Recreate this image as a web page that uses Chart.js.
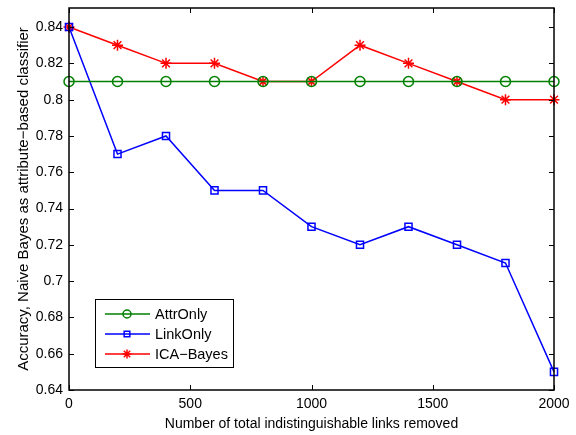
<!DOCTYPE html>
<html>
<head>
<meta charset="utf-8">
<script src="https://cdn.jsdelivr.net/npm/chart.js@4/dist/chart.umd.min.js"></script>
<style>
  html, body { margin: 0; padding: 0; background: #fff; }
  #wrap { width: 576px; height: 435px; }
</style>
</head>
<body>
<div id="wrap"><canvas id="chart"></canvas></div>
<script>
const linksRemoved = [0, 200, 400, 600, 800, 1000, 1200, 1400, 1600, 1800, 2000];
const attrOnly = [0.81, 0.81, 0.81, 0.81, 0.81, 0.81, 0.81, 0.81, 0.81, 0.81, 0.81];
const linkOnly = [0.84, 0.77, 0.78, 0.75, 0.75, 0.73, 0.72, 0.73, 0.72, 0.71, 0.65];
const icaBayes = [0.84, 0.83, 0.82, 0.82, 0.81, 0.81, 0.83, 0.82, 0.81, 0.80, 0.80];
const yTicks = [0.64, 0.66, 0.68, 0.70, 0.72, 0.74, 0.76, 0.78, 0.80, 0.82, 0.84];
const xTicks = [0, 500, 1000, 1500, 2000];

const FONT = 'Liberation Sans, Arial, Helvetica, sans-serif';
Chart.defaults.font.family = FONT;
Chart.defaults.color = '#000';

function series(label, values, color, style, radius) {
  return {
    label: label,
    data: linksRemoved.map((x, i) => ({ x: x, y: values[i] })),
    borderColor: color,
    backgroundColor: 'rgba(0,0,0,0)',
    pointBorderColor: color,
    pointBackgroundColor: 'rgba(0,0,0,0)',
    pointStyle: style,
    pointRadius: radius,
    pointBorderWidth: 1.5,
    borderWidth: 1.5,
    tension: 0,
    clip: false
  };
}

// MATLAB-like frame: full box with inward tick marks on all four sides
const boxTicks = {
  id: 'boxTicks',
  afterDatasetsDraw(chart) {
    const { ctx, chartArea: a, scales } = chart;
    const len = 5;
    ctx.save();
    ctx.strokeStyle = '#000';
    ctx.lineWidth = 1;
    xTicks.forEach(v => {
      const px = Math.round(scales.x.getPixelForValue(v)) + 0.5;
      ctx.beginPath();
      ctx.moveTo(px, a.bottom); ctx.lineTo(px, a.bottom - len);
      ctx.moveTo(px, a.top); ctx.lineTo(px, a.top + len);
      ctx.stroke();
    });
    yTicks.forEach(v => {
      const py = Math.round(scales.y.getPixelForValue(v)) + 0.5;
      ctx.beginPath();
      ctx.moveTo(a.left, py); ctx.lineTo(a.left + len, py);
      ctx.moveTo(a.right, py); ctx.lineTo(a.right - len, py);
      ctx.stroke();
    });
    ctx.lineWidth = 1.5;
    ctx.strokeRect(a.left, a.top, a.right - a.left, a.bottom - a.top);
    ctx.restore();
  }
};

// legend box in the lower left of the plot
const insetLegend = {
  id: 'insetLegend',
  afterDraw(chart) {
    const { ctx } = chart;
    const x0 = 95, y0 = 299, w = 138, h = 68;
    ctx.save();
    ctx.fillStyle = '#fff';
    ctx.fillRect(x0, y0, w, h);
    ctx.strokeStyle = '#000';
    ctx.lineWidth = 1;
    ctx.strokeRect(x0 + 0.5, y0 + 0.5, w, h);
    chart.data.datasets.forEach((ds, i) => {
      const y = 314 + i * 20;
      ctx.strokeStyle = ds.borderColor;
      ctx.lineWidth = 1.5;
      ctx.beginPath();
      ctx.moveTo(105, y); ctx.lineTo(150, y);
      ctx.stroke();
      ctx.fillStyle = 'rgba(0,0,0,0)';
      Chart.helpers.drawPoint(ctx, {
        pointStyle: ds.pointStyle,
        radius: ds.pointRadius - 1,
        borderWidth: 1.5,
        rotation: 0
      }, 127, y);
      ctx.fillStyle = '#000';
      ctx.font = '14.5px ' + FONT;
      ctx.textBaseline = 'middle';
      ctx.textAlign = 'left';
      ctx.fillText(ds.label, 155, y + 0.5);
    });
    ctx.restore();
  }
};

new Chart(document.getElementById('chart'), {
  type: 'line',
  data: {
    datasets: [
      series('AttrOnly', attrOnly, '#008000', 'circle', 5),
      series('LinkOnly', linkOnly, '#0000ff', 'rect', 5),
      series('ICA\u2212Bayes', icaBayes, '#ff0000', 'star', 5.5)
    ]
  },
  options: {
    responsive: true,
    maintainAspectRatio: false,
    animation: false,
    layout: { padding: { top: 8, right: 22, left: 0, bottom: 0 } },
    plugins: {
      legend: { display: false },
      tooltip: { enabled: false }
    },
    scales: {
      x: {
        type: 'linear',
        min: 0,
        max: 2000,
        grid: { display: false, drawTicks: false },
        border: { display: false },
        afterBuildTicks: s => { s.ticks = xTicks.map(v => ({ value: v })); },
        afterFit: s => { s.height = 45; s.paddingLeft = 0; s.paddingRight = 0; },
        ticks: {
          font: { size: 14 },
          padding: 6,
          maxRotation: 0,
          callback: v => String(v)
        },
        title: {
          display: true,
          text: 'Number of total indistinguishable links removed',
          font: { size: 14 },
          padding: { top: 0, bottom: 2 }
        }
      },
      y: {
        type: 'linear',
        min: 0.64,
        max: 0.8505,
        grid: { display: false, drawTicks: false },
        border: { display: false },
        afterBuildTicks: s => { s.ticks = yTicks.map(v => ({ value: v })); },
        afterFit: s => { s.width = 69; s.paddingTop = 0; s.paddingBottom = 0; },
        ticks: {
          font: { size: 14 },
          padding: 6,
          callback: v => String(+v.toFixed(2))
        },
        title: {
          display: true,
          text: 'Accuracy, Naive Bayes as attribute\u2212based classifier',
          font: { size: 15 },
          padding: { top: 15, bottom: 0 }
        }
      }
    }
  },
  plugins: [boxTicks, insetLegend]
});
</script>
</body>
</html>
